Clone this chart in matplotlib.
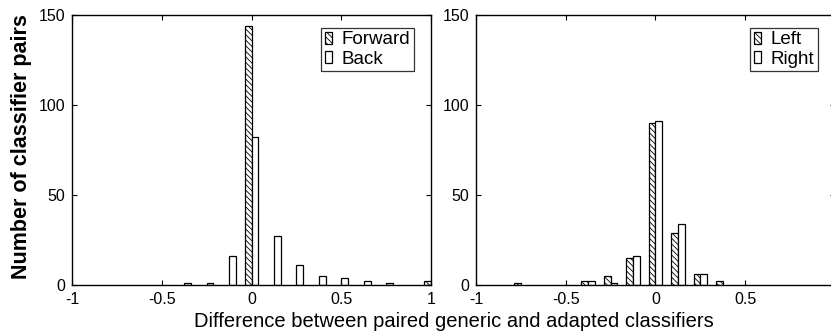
import numpy as np
import matplotlib.pyplot as plt

plt.rcParams['font.family'] = ['Liberation Sans', 'DejaVu Sans']
plt.rcParams['hatch.linewidth'] = 0.6

# bin centres
bins = [-1.0, -0.875, -0.75, -0.625, -0.5, -0.375, -0.25, -0.125,
        0.0, 0.125, 0.25, 0.375, 0.5, 0.625, 0.75, 0.875, 1.0]

forward = [0, 0, 0, 0, 0, 0, 0, 0, 144, 0, 0, 0, 0, 0, 0, 0, 2]
back    = [0, 0, 0, 0, 0, 1, 1, 16, 82, 27, 11, 5, 4, 2, 1, 0, 0]

left  = [0, 0, 1, 0, 0, 2, 5, 15, 90, 29, 6, 2, 0, 0, 0, 0, 0]
right = [0, 0, 0, 0, 0, 2, 1, 16, 91, 34, 6, 0, 0, 0, 0, 0, 0]

xticks = [-1, -0.5, 0, 0.5, 1]
xticklabels = ['-1', '-0.5', '0', '0.5', '1']
yticks = [0, 50, 100, 150]

w = 0.038
fig = plt.figure(figsize=(8.31, 3.32), dpi=100)
ax1 = fig.add_axes([72/831, 47/332, 359/831, 270/332])
# right panel runs past the right edge of the picture, as in the original
ax2 = fig.add_axes([476/831, 47/332, 359/831, 270/332])


def draw_bars(ax, vals, offset, **kw):
    v = np.array(vals, dtype=float)
    m = v > 0
    return ax.bar(np.array(bins)[m] + offset, v[m], w, color='white',
                  edgecolor='black', linewidth=0.9, **kw)


def panel(ax, a, b, names, labels):
    draw_bars(ax, a, -w/2, hatch='\\\\\\\\\\\\', label=names[0])
    draw_bars(ax, b, w/2, label=names[1])
    ax.set_xlim(-1, 1)
    ax.set_ylim(0, 150)
    ax.set_xticks(xticks)
    ax.set_xticklabels(labels)
    ax.set_yticks(yticks)
    ax.tick_params(direction='in', top=True, right=True, length=3.5,
                   labelsize=11.5, pad=5)
    for s in ax.spines.values():
        s.set_linewidth(1.0)
    leg = ax.legend(loc='upper right', bbox_to_anchor=(0.953, 0.953),
                    fontsize=13.5, frameon=True, fancybox=False,
                    edgecolor='black', handlelength=0.4, handleheight=0.6,
                    handletextpad=0.5, borderpad=0.2, labelspacing=0.12,
                    borderaxespad=0)
    leg.get_frame().set_linewidth(0.9)


panel(ax1, forward, back, ['Forward', 'Back'], xticklabels)
panel(ax2, left, right, ['Left', 'Right'], xticklabels[:-1] + [''])

fig.text(22/831, 1 - 147/332, 'Number of classifier pairs', rotation=90,
         ha='center', va='center', fontsize=15.5, fontweight='bold')
fig.text(454/831, 5/332, 'Difference between paired generic and adapted classifiers',
         ha='center', va='baseline', fontsize=14.5)

fig.savefig('out.png', dpi=100)
